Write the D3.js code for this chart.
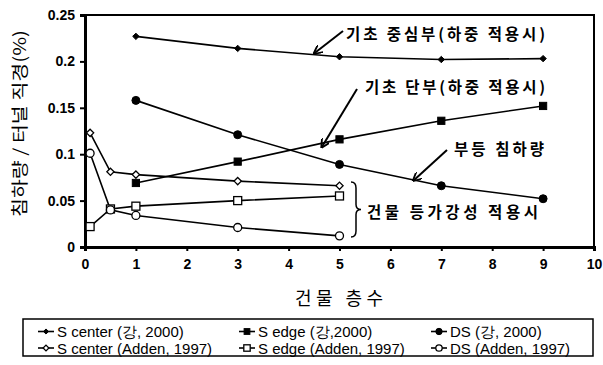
<!DOCTYPE html>
<html>
<head>
<meta charset="utf-8">
<script src="https://cdn.jsdelivr.net/npm/d3@7/dist/d3.min.js"></script>
<style>
  html, body { margin: 0; padding: 0; background: #fff; }
  svg { display: block; }
</style>
</head>
<body>
<svg id="chart" width="603" height="365"></svg>
<script>
// Building storeys (x) and settlement / tunnel diameter (%) for each series
const kangFloors = [1, 3, 5, 7, 9];
const addenFloors = [0.1, 0.5, 1, 3, 5];

const sCenterKang = [0.227, 0.214, 0.205, 0.202, 0.203];
const sEdgeKang   = [0.069, 0.092, 0.116, 0.136, 0.152];
const dsKang      = [0.158, 0.121, 0.089, 0.066, 0.052];

const sCenterAdden = [0.123, 0.081, 0.078, 0.071, 0.066];
const sEdgeAdden   = [0.022, 0.041, 0.044, 0.050, 0.055];
const dsAdden      = [0.101, 0.040, 0.034, 0.021, 0.012];

const xTicks = [0, 1, 2, 3, 4, 5, 6, 7, 8, 9, 10];
const yTicks = [0, 0.05, 0.1, 0.15, 0.2, 0.25];
const yTickLabels = ["0", "0.05", "0.1", "0.15", "0.2", "0.25"];

const legendLabels = [
  "S center (강, 2000)", "S edge (강,2000)", "DS (강, 2000)",
  "S center (Adden, 1997)", "S edge (Adden, 1997)", "DS (Adden, 1997)"
];

const series = [
  { name: legendLabels[0], xs: kangFloors,  ys: sCenterKang,  shape: "diamond", filled: true,  size: 3.2 },
  { name: legendLabels[1], xs: kangFloors,  ys: sEdgeKang,    shape: "square",  filled: true,  size: 3.6 },
  { name: legendLabels[2], xs: kangFloors,  ys: dsKang,       shape: "circle",  filled: true,  size: 4.0 },
  { name: legendLabels[3], xs: addenFloors, ys: sCenterAdden, shape: "diamond", filled: false, size: 3.6 },
  { name: legendLabels[4], xs: addenFloors, ys: sEdgeAdden,   shape: "square",  filled: false, size: 4.0 },
  { name: legendLabels[5], xs: addenFloors, ys: dsAdden,      shape: "circle",  filled: false, size: 4.0 }
];

const svg = d3.select("#chart");
const m = { left: 85, top: 15, right: 594, bottom: 247 };

const x = d3.scaleLinear().domain([0, 10]).range([m.left, m.right]);
const y = d3.scaleLinear().domain([0, 0.25]).range([m.bottom, m.top]);

const korean = "'Noto Sans CJK KR', 'Noto Sans', sans-serif";
const latin = "'Liberation Sans', Arial, sans-serif";

// Plot frame
svg.append("rect")
  .attr("x", m.left).attr("y", m.top)
  .attr("width", m.right - m.left).attr("height", m.bottom - m.top)
  .attr("fill", "none").attr("stroke", "#000").attr("stroke-width", 2);

// Axes
const xAxis = d3.axisBottom(x).tickValues(xTicks).tickSize(4).tickFormat(d3.format("d"));
const gx = svg.append("g").attr("transform", `translate(0,${m.bottom})`).call(xAxis);
gx.select(".domain").attr("stroke-width", 3);
gx.selectAll(".tick line").attr("stroke-width", 2);
gx.selectAll("text").attr("font-family", latin).attr("font-size", 14)
  .attr("font-weight", "bold").attr("dy", "1.05em").attr("fill", "#000");

const yAxis = d3.axisLeft(y).tickValues(yTicks).tickSize(5)
  .tickFormat((d, i) => yTickLabels[i]);
const gy = svg.append("g").attr("transform", `translate(${m.left},0)`).call(yAxis);
gy.select(".domain").attr("stroke-width", 3);
gy.selectAll(".tick line").attr("stroke-width", 2);
gy.selectAll("text").attr("font-family", latin).attr("font-size", 14)
  .attr("font-weight", "bold").attr("x", -10).attr("fill", "#000");

// Series lines
const line = d3.line().x(d => x(d[0])).y(d => y(d[1]));
series.forEach(s => {
  const pts = s.xs.map((v, i) => [v, s.ys[i]]);
  svg.append("path").datum(pts)
    .attr("d", line).attr("fill", "none")
    .attr("stroke", "#000").attr("stroke-width", 1.6);
});

// Markers
function drawMarker(g, shape, cx, cy, r, filled) {
  const fill = filled ? "#000" : "#fff";
  const sw = filled ? 1 : 1.3;
  if (shape === "circle") {
    g.append("circle").attr("cx", cx).attr("cy", cy).attr("r", r)
      .attr("fill", fill).attr("stroke", "#000").attr("stroke-width", sw);
  } else if (shape === "square") {
    g.append("rect").attr("x", cx - r).attr("y", cy - r)
      .attr("width", 2 * r).attr("height", 2 * r)
      .attr("fill", fill).attr("stroke", "#000").attr("stroke-width", sw);
  } else {
    g.append("path")
      .attr("d", `M${cx},${cy - r}L${cx + r},${cy}L${cx},${cy + r}L${cx - r},${cy}Z`)
      .attr("fill", fill).attr("stroke", "#000").attr("stroke-width", sw);
  }
}
const gm = svg.append("g");
series.forEach(s => {
  s.xs.forEach((v, i) => drawMarker(gm, s.shape, x(v), y(s.ys[i]), s.size, s.filled));
});

// Annotation arrows
svg.append("defs").append("marker")
  .attr("id", "arrowhead").attr("viewBox", "0 0 10 10")
  .attr("refX", 9).attr("refY", 5)
  .attr("markerWidth", 9).attr("markerHeight", 9)
  .attr("markerUnits", "userSpaceOnUse")
  .attr("orient", "auto")
  .append("path").attr("d", "M0,0L10,5L0,10").attr("fill", "none")
  .attr("stroke", "#000").attr("stroke-width", 2);

function arrow(x1, y1, x2, y2) {
  svg.append("line").attr("x1", x1).attr("y1", y1).attr("x2", x2).attr("y2", y2)
    .attr("stroke", "#000").attr("stroke-width", 2)
    .attr("marker-end", "url(#arrowhead)");
}
// point each arrow at a location on the relevant curve
arrow(343, 31, x(4.5), y(0.2085));
arrow(357, 89, x(4.65), y(0.1075));
arrow(447, 150, x(6.45), y(0.0715));

function note(text, x0, yc, width) {
  svg.append("text").attr("x", x0).attr("y", yc)
    .attr("dominant-baseline", "central")
    .attr("font-family", korean).attr("font-size", 15.5).attr("font-weight", "bold")
    .attr("textLength", width).attr("lengthAdjust", "spacing")
    .attr("fill", "#000").text(text);
}
note("기초 중심부(하중 적용시)", 346, 33, 199);
note("기초 단부(하중 적용시)", 365, 86, 180);
note("부등 침하량", 454, 148, 90);
note("건물 등가강성 적용시", 367, 211, 171);

// Brace grouping the Adden series
const bx = 351, by0 = 182, by1 = 237, bm = (by0 + by1) / 2;
svg.append("path")
  .attr("d", `M${bx},${by0} Q${bx + 5},${by0} ${bx + 5},${by0 + 6} L${bx + 5},${bm - 5} Q${bx + 5},${bm} ${bx + 10},${bm} Q${bx + 5},${bm} ${bx + 5},${bm + 5} L${bx + 5},${by1 - 6} Q${bx + 5},${by1} ${bx},${by1}`)
  .attr("fill", "none").attr("stroke", "#000").attr("stroke-width", 1.5);

// Axis titles
svg.append("text")
  .attr("transform", "translate(18,123.5) rotate(-90)")
  .attr("text-anchor", "middle").attr("dominant-baseline", "central")
  .attr("font-family", korean).attr("font-size", 17)
  .attr("textLength", 187).attr("lengthAdjust", "spacingAndGlyphs")
  .attr("fill", "#000").text("침하량 / 터널 직경(%)");

svg.append("text")
  .attr("x", 339).attr("y", 297)
  .attr("text-anchor", "middle").attr("dominant-baseline", "central")
  .attr("font-family", korean).attr("font-size", 18)
  .attr("textLength", 88).attr("lengthAdjust", "spacing")
  .attr("fill", "#000").text("건물 층수");

// Legend
svg.append("rect").attr("x", 23).attr("y", 319).attr("width", 570).attr("height", 37)
  .attr("fill", "#fff").attr("stroke", "#000").attr("stroke-width", 1.5);

const colX = [38, 239, 431];
const rowY = [331.5, 348];
series.forEach((s, i) => {
  const c = i % 3, cy = rowY[Math.floor(i / 3)];
  const cx0 = colX[c];
  svg.append("line").attr("x1", cx0).attr("x2", cx0 + 16).attr("y1", cy).attr("y2", cy)
    .attr("stroke", "#000").attr("stroke-width", 1.6);
  drawMarker(svg, s.shape, cx0 + 8, cy, s.size * 0.8, s.filled);
  svg.append("text").attr("x", cx0 + 19).attr("y", cy)
    .attr("dominant-baseline", "central")
    .attr("font-family", latin).attr("font-size", 15).attr("fill", "#000")
    .text(s.name);
});
</script>
</body>
</html>
